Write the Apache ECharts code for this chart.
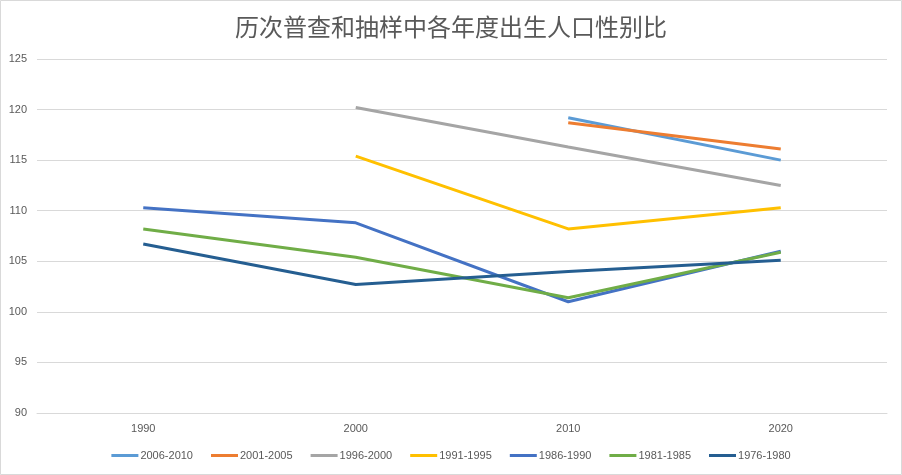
<!DOCTYPE html>
<html>
<head>
<meta charset="utf-8">
<script src="https://cdn.jsdelivr.net/npm/echarts@6/dist/echarts.min.js"></script>
<style>
html,body{margin:0;padding:0;background:#fff;}
#chart{width:902px;height:475px;}
</style>
</head>
<body>
<div id="chart"></div>
<script>
var categories = ['1990', '2000', '2010', '2020'];
var seriesNames = ['2006-2010', '2001-2005', '1996-2000', '1991-1995', '1986-1990', '1981-1985', '1976-1980'];
var s2006_2010 = [null, null, 119.2, 115.0];
var s2001_2005 = [null, null, 118.7, 116.1];
var s1996_2000 = [null, 120.2, 116.3, 112.5];
var s1991_1995 = [null, 115.4, 108.2, 110.3];
var s1986_1990 = [110.3, 108.8, 101.0, 106.0];
var s1981_1985 = [108.2, 105.4, 101.4, 105.9];
var s1976_1980 = [106.7, 102.7, 104.0, 105.1];
var colors = ['#5B9BD5', '#ED7D31', '#A5A5A5', '#FFC000', '#4472C4', '#70AD47', '#255E91'];
var allData = [s2006_2010, s2001_2005, s1996_2000, s1991_1995, s1986_1990, s1981_1985, s1976_1980];

var chart = echarts.init(document.getElementById('chart'));
var font = '"Liberation Sans", Arial, sans-serif';
chart.setOption({
  animation: false,
  backgroundColor: '#fff',
  color: colors,
  title: {
    text: '历次普查和抽样中各年度出生人口性别比',
    left: 'center',
    top: 10,
    textStyle: {fontFamily: '"Noto Sans CJK SC", sans-serif', fontSize: 24, fontWeight: 'normal', color: '#595959'}
  },
  graphic: [{
    type: 'rect', silent: true,
    shape: {x: 0.5, y: 0.5, width: 901, height: 474},
    style: {fill: 'none', stroke: '#d9d9d9', lineWidth: 1}
  }],
  legend: {
    bottom: 9,
    left: 'center',
    icon: 'rect',
    itemWidth: 27,
    itemHeight: 3,
    itemGap: 18,
    textStyle: {fontFamily: font, fontSize: 11, color: '#595959', padding: [0, 0, 0, -3]},
    data: seriesNames
  },
  grid: {left: 37, right: 15, top: 59, bottom: 62},
  xAxis: {
    type: 'category',
    data: categories,
    boundaryGap: true,
    axisLine: {show: true, lineStyle: {color: '#d9d9d9'}},
    axisTick: {show: false},
    axisLabel: {fontFamily: font, fontSize: 11, color: '#595959', margin: 10}
  },
  yAxis: {
    type: 'value',
    min: 90, max: 125, interval: 5,
    axisLine: {show: false},
    axisTick: {show: false},
    splitLine: {lineStyle: {color: '#d9d9d9'}},
    axisLabel: {fontFamily: font, fontSize: 11, color: '#595959', margin: 10}
  },
  series: seriesNames.map(function (n, i) {
    return {
      name: n,
      type: 'line',
      data: allData[i],
      showSymbol: false,
      symbol: 'none',
      lineStyle: {width: 3, color: colors[i]},
      itemStyle: {color: colors[i]}
    };
  })
});
</script>
</body>
</html>
